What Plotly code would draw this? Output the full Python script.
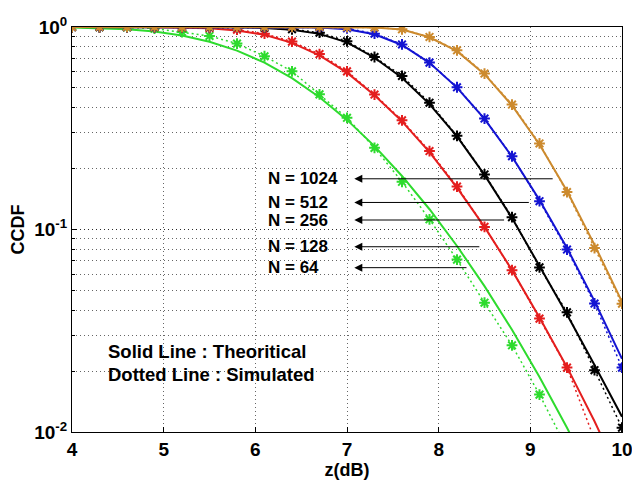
import numpy as np
import plotly.graph_objects as go

# x positions (dB)
z_db = [4.0, 4.3, 4.6, 4.9, 5.2, 5.5, 5.8, 6.1, 6.4, 6.7, 7.0,
        7.3, 7.6, 7.9, 8.2, 8.5, 8.8, 9.1, 9.4, 9.7, 10.0]

# Theoretical CCDF (solid lines)
theo_64 = [0.9955, 0.9888, 0.9748, 0.9492, 0.9073, 0.8457, 0.7643, 0.6665, 0.5591, 0.4502, 0.3478,
           0.2581, 0.1838, 0.1259, 0.0829, 0.0525, 0.0320, 0.0187, 0.0105, 0.00565, 0.0029]
theo_128 = [1.0, 0.9999, 0.9994, 0.997, 0.991, 0.985, 0.962, 0.915, 0.835, 0.725, 0.595,
            0.460, 0.342, 0.241, 0.161, 0.103, 0.063, 0.0368, 0.0209, 0.0113, 0.0058]
theo_256 = [1.0, 1.0, 1.0, 1.0, 0.9999, 0.9995, 0.997, 0.990, 0.970, 0.925, 0.840,
            0.705, 0.562, 0.416, 0.288, 0.186, 0.114, 0.066, 0.038, 0.0214, 0.0119]
theo_512 = [1.0, 1.0, 1.0, 1.0, 1.0, 1.0, 1.0, 0.9999, 0.999, 0.993, 0.975,
            0.920, 0.815, 0.665, 0.502, 0.352, 0.229, 0.140, 0.081, 0.0443, 0.0230]
theo_1024 = [1.0, 1.0, 1.0, 1.0, 1.0, 1.0, 1.0, 1.0, 1.0, 1.0, 0.999,
             0.995, 0.972, 0.890, 0.760, 0.585, 0.410, 0.263, 0.155, 0.084, 0.044]

# Simulated CCDF (dotted lines with markers)
sim_64 = [1.0, 0.999, 0.995, 0.982, 0.945, 0.903, 0.828, 0.717, 0.604, 0.465, 0.356,
          0.253, 0.172, 0.1123, 0.071, 0.0435, 0.0268, 0.0153, 0.0085, 0.0045, 0.0023]
sim_128 = [1.0, 1.0, 0.9998, 0.999, 0.996, 0.988, 0.970, 0.927, 0.847, 0.735, 0.604,
           0.464, 0.346, 0.244, 0.163, 0.103, 0.063, 0.0363, 0.0208, 0.0092, 0.0045]
sim_256 = [1.0, 1.0, 1.0, 1.0, 1.0, 1.0, 0.998, 0.992, 0.975, 0.938, 0.850,
           0.711, 0.573, 0.423, 0.290, 0.187, 0.115, 0.065, 0.039, 0.0202, 0.0105]
sim_512 = [1.0, 1.0, 1.0, 1.0, 1.0, 1.0, 1.0, 1.0, 0.9995, 0.994, 0.985,
           0.927, 0.820, 0.667, 0.504, 0.353, 0.230, 0.138, 0.0796, 0.0431, 0.0208]
sim_1024 = [1.0, 1.0, 1.0, 1.0, 1.0, 1.0, 1.0, 1.0, 1.0, 1.0, 0.999,
            0.995, 0.974, 0.893, 0.767, 0.589, 0.414, 0.266, 0.153, 0.081, 0.043]

labels = ["N = 1024", "N = 512", "N = 256", "N = 128", "N = 64"]
x_ticks = [4, 5, 6, 7, 8, 9, 10]
y_ticks = [0.01, 0.1, 1]
y_ticktext = ["10<sup>-2</sup>", "10<sup>-1</sup>", "10<sup>0</sup>"]

# plotted from N=64 up to N=1024 so the later curves sit on top
series = [
    (theo_64, sim_64, "#2EDB2E"),
    (theo_128, sim_128, "#E41E1E"),
    (theo_256, sim_256, "#000000"),
    (theo_512, sim_512, "#1414D2"),
    (theo_1024, sim_1024, "#CC8A2E"),
]

FONT = "Arial, Liberation Sans, sans-serif"

fig = go.Figure()
for theo, sim, col in series:
    fig.add_trace(go.Scatter(x=z_db, y=theo, mode="lines",
                             line=dict(color=col, width=2), showlegend=False))
    fig.add_trace(go.Scatter(x=z_db, y=sim, mode="lines+markers",
                             line=dict(color=col, width=1.5, dash="2px,3px"),
                             marker=dict(symbol="asterisk-open", size=9,
                                         line=dict(color=col, width=2)),
                             showlegend=False))

# Arrow annotations (label on the left, arrow pointing from curve area to label)
arrow_y = [0.178, 0.136, 0.1114, 0.0822, 0.0648]
arrow_tail_x = [9.26, 9.0, 8.73, 8.46, 8.32]
arrow_head_x = 7.08
label_x = 6.12
for lab, yv, tx in zip(labels, arrow_y, arrow_tail_x):
    fig.add_annotation(x=arrow_head_x, y=np.log10(yv), ax=tx, ay=np.log10(yv),
                       xref="x", yref="y", axref="x", ayref="y",
                       text="", showarrow=True, arrowhead=2, arrowsize=1.6,
                       arrowwidth=1, arrowcolor="black")
    fig.add_annotation(x=label_x, y=np.log10(yv), xref="x", yref="y",
                       text="<b>" + lab + "</b>", showarrow=False,
                       xanchor="left", yanchor="middle",
                       font=dict(family=FONT, size=17, color="black"))

for txt, yv in [("Solid Line : Theoritical", 0.025), ("Dotted Line : Simulated", 0.0192)]:
    fig.add_annotation(x=4.37, y=np.log10(yv), xref="x", yref="y",
                       text="<b>" + txt + "</b>", showarrow=False,
                       xanchor="left", yanchor="middle",
                       font=dict(family=FONT, size=18.5, color="black"))

grid_col = "rgba(0,0,0,0.6)"
grid_dash = "1px,3px"
fig.update_layout(
    width=632, height=481,
    margin=dict(l=72, r=10, t=27, b=49),
    paper_bgcolor="white", plot_bgcolor="white",
    font=dict(family=FONT, size=18, color="black"),
    xaxis=dict(range=[4, 10], tickvals=x_ticks,
               ticktext=["<b>%d</b>" % v for v in x_ticks],
               showgrid=True, gridcolor=grid_col, griddash=grid_dash, gridwidth=1,
               showline=True, linecolor="black", linewidth=1, mirror=True,
               ticks="inside", ticklen=5, tickcolor="black",
               zeroline=False, automargin=False, ticklabeloverflow="allow",
               tickfont=dict(size=19),
               title=dict(text="<b>z(dB)</b>", font=dict(size=18), standoff=2)),
    yaxis=dict(type="log", range=[-2, 0], tickvals=y_ticks,
               ticktext=["<b>" + t + "</b>" for t in y_ticktext],
               showgrid=True, gridcolor=grid_col, griddash=grid_dash, gridwidth=1,
               minor=dict(dtick="D1", showgrid=True, gridcolor=grid_col,
                          griddash=grid_dash, gridwidth=1, ticks="inside",
                          ticklen=3, tickcolor="black"),
               showline=True, linecolor="black", linewidth=1, mirror=True,
               ticks="inside", ticklen=5, tickcolor="black",
               zeroline=False, automargin=False, ticklabeloverflow="allow",
               tickfont=dict(size=19),
               title=dict(text="<b>CCDF</b>", font=dict(size=18), standoff=4)),
)

fig.write_html("out.html")
